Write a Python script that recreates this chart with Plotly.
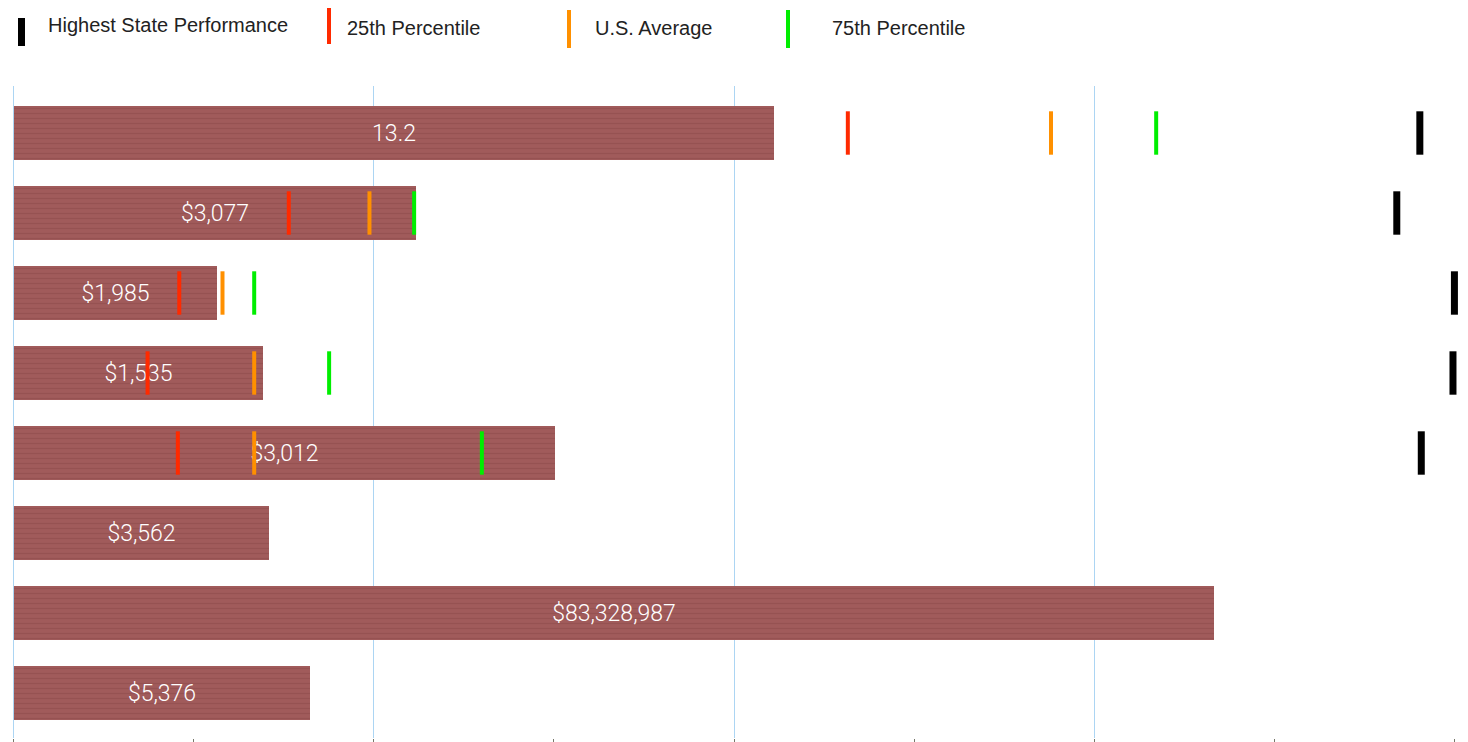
import plotly.graph_objects as go

# ---- data (normalized 0-100 scores, one row per indicator, top to bottom) ----
rows = [0, 1, 2, 3, 4, 5, 6, 7]
bar_scores = [52.8, 27.95, 14.15, 17.3, 37.6, 17.75, 83.3, 20.6]
bar_labels = ["13.2", "$3,077", "$1,985", "$1,535", "$3,012", "$3,562", "$83,328,987", "$5,376"]

p25 = [57.9, 19.1, 11.5, 9.3, 11.4, None, None, None]
us_avg = [72.0, 24.7, 14.5, 16.7, 16.7, None, None, None]
p75 = [79.3, 27.8, 16.7, 21.9, 32.5, None, None, None]
highest = [97.6, 96.0, 100.0, 99.9, 97.7, None, None, None]

legend_names = ["Highest State Performance", "25th Percentile", "U.S. Average", "75th Percentile"]

# ---- layout geometry (page body adds an 8px offset) ----
OFF = 8
W, H = 1460, 734
PLOT_L, PLOT_R, PLOT_T, PLOT_B = 13, 1455, 86, 738
ML, MT = PLOT_L - OFF, PLOT_T - OFF
PW, PH = PLOT_R - PLOT_L, PLOT_B - PLOT_T
MR, MB = W - ML - PW, H - MT - PH


def px_x(x):
    return (x - PLOT_L) / PW


def px_y(y):
    return (PLOT_B - y) / PH


fig = go.Figure()

fig.add_trace(go.Bar(
    y=rows, x=bar_scores, orientation="h", width=0.675,
    text=bar_labels, textposition="inside", insidetextanchor="middle",
    textfont=dict(family="Roboto", size=23, color="white", weight=300),
    marker=dict(color="#a15b5b", line=dict(width=0),
                pattern=dict(shape="-", fgcolor="#8a4646", fgopacity=0.45,
                             size=5, solidity=0.3)),
    showlegend=False, hoverinfo="skip",
))

marker_sets = [
    (p25, "#ff2a00", 4),
    (us_avg, "#ff9000", 4),
    (p75, "#00ee00", 4),
    (highest, "#000000", 7),
]
for vals, col, lw in marker_sets:
    fig.add_trace(go.Scatter(
        y=rows, x=vals, mode="markers",
        marker=dict(symbol="line-ns", size=31, color=col,
                    line=dict(color=col, width=lw)),
        showlegend=False, hoverinfo="skip", cliponaxis=False,
    ))

# ---- custom legend across the top ----
legend_items = [
    # (name, color, bar x px, bar width px, y top, y bottom, text x px, text y px)
    (legend_names[0], "#000000", 21.5, 7, 18, 46, 46, 25),
    (legend_names[1], "#ff2a00", 329, 4, 3, 44, 345, 28),
    (legend_names[2], "#ff9000", 569, 4, 10, 48, 593, 28),
    (legend_names[3], "#00ee00", 788, 4, 10, 48, 830, 28),
]
shapes = []
annotations = []
for name, col, bx, bw, yt, yb, tx, ty in legend_items:
    shapes.append(dict(type="line", xref="paper", yref="paper",
                       x0=px_x(bx), x1=px_x(bx), y0=px_y(yt), y1=px_y(yb),
                       line=dict(color=col, width=bw)))
    annotations.append(dict(text=name, xref="paper", yref="paper",
                            x=px_x(tx), y=px_y(ty), xanchor="left", yanchor="middle",
                            showarrow=False,
                            font=dict(family="Liberation Sans", size=20, color="#222222")))

fig.update_layout(
    width=W, height=H,
    margin=dict(l=ML, r=MR, t=MT, b=MB, autoexpand=False),
    plot_bgcolor="white", paper_bgcolor="white",
    bargap=0, shapes=shapes, annotations=annotations,
    xaxis=dict(range=[-0.04, 100.04], dtick=25, tick0=0, showgrid=True,
               gridcolor="#acd5f3", gridwidth=1.2,
               zeroline=True, zerolinecolor="#acd5f3", zerolinewidth=1.2,
               showticklabels=False, ticks="outside", ticklen=4, tickcolor="#77776a",
               minor=dict(dtick=12.5, ticks="outside", ticklen=4, tickcolor="#77776a",
                          showgrid=False),
               showline=False, fixedrange=True),
    yaxis=dict(range=[7.5625, -0.5875], showgrid=False, zeroline=False,
               showticklabels=False, showline=False, fixedrange=True),
)

fig.write_html("out.html")
